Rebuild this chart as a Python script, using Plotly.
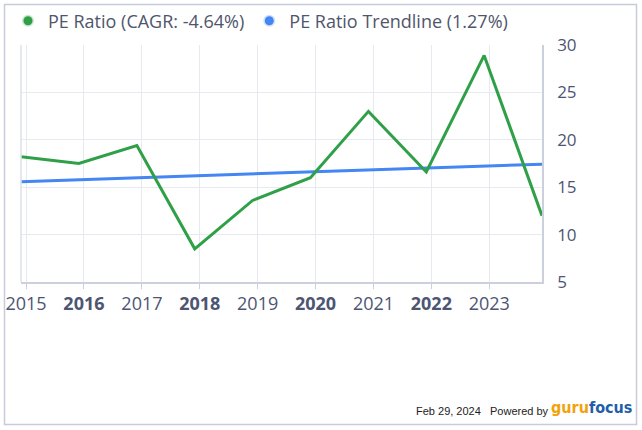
import plotly.graph_objects as go

# ---- data ----
dates = ["2014-11-30", "2015-11-30", "2016-11-30", "2017-11-30", "2018-11-30",
         "2019-11-30", "2020-11-30", "2021-11-30", "2022-11-30", "2023-11-30"]
pe_ratio = [18.2, 17.5, 19.4, 8.5, 13.6, 16.0, 23.0, 16.6, 28.9, 12.0]
trendline = [15.58, 15.78, 15.98, 16.18, 16.39, 16.60, 16.81, 17.02, 17.23, 17.43]

tick_dates = ["2015-01-01", "2016-01-01", "2017-01-01", "2018-01-01", "2019-01-01",
              "2020-01-01", "2021-01-01", "2022-01-01", "2023-01-01"]
tick_labels = ["2015", "<b>2016</b>", "2017", "<b>2018</b>", "2019",
               "<b>2020</b>", "2021", "<b>2022</b>", "2023"]
y_ticks = [5, 10, 15, 20, 25, 30]

series_names = ["PE Ratio (CAGR: -4.64%)", "PE Ratio Trendline (1.27%)"]
green = "#2fa048"
blue = "#4386f4"

fig = go.Figure()

fig.add_trace(go.Scatter(x=dates, y=trendline, mode="lines",
                         line=dict(color=blue, width=3), showlegend=False,
                         hoverinfo="skip"))
fig.add_trace(go.Scatter(x=dates, y=pe_ratio, mode="lines",
                         line=dict(color=green, width=3), showlegend=False,
                         hoverinfo="skip"))

# legend entries (dot markers)
fig.add_trace(go.Scatter(x=[None], y=[None], mode="markers", name=series_names[0],
                         marker=dict(color=green, size=9,
                                     line=dict(color="rgba(47,160,72,0.25)", width=3))))
fig.add_trace(go.Scatter(x=[None], y=[None], mode="markers", name=series_names[1],
                         marker=dict(color=blue, size=9,
                                     line=dict(color="rgba(67,134,244,0.25)", width=3))))

L, R, T, B = 21, 100, 45, 148
W, H = 642, 430
pw = W - L - R
ph = H - T - B


def px_x(p):
    return (p - L) / pw


def px_y(p):
    return (H - B - p) / ph


fig.update_layout(
    width=W, height=H,
    margin=dict(l=L, r=R, t=T, b=B, pad=0, autoexpand=False),
    paper_bgcolor="white", plot_bgcolor="white",
    font=dict(family="Open Sans, sans-serif", color="#4d5573"),
    legend=dict(orientation="h", xref="container", yref="container",
                x=8 / W, xanchor="left",
                y=1 - 21 / H, yanchor="middle",
                font=dict(size=18, color="#4f566b"),
                itemwidth=30, tracegroupgap=0, bgcolor="rgba(0,0,0,0)"),
    xaxis=dict(type="date", range=[dates[0], dates[-1]],
               tickvals=tick_dates, ticktext=tick_labels,
               showgrid=True, gridcolor="#e6e9f0", gridwidth=1,
               showline=True, linecolor="#ccd0dc", linewidth=1.5,
               ticks="outside", ticklen=5, tickcolor="#ccd0dc",
               tickfont=dict(size=18, color="#4d5573"),
               zeroline=False, fixedrange=True),
    yaxis=dict(side="right", range=[5, 30], tickvals=y_ticks,
               showgrid=True, gridcolor="#e6e9f0", gridwidth=1,
               showline=True, linecolor="#ccd0dc", linewidth=1.5,
               ticks="", ticklabelstandoff=10,
               tickfont=dict(size=17, color="#4d5573"),
               zeroline=False, fixedrange=True),
    showlegend=True,
)

# left edge line of plot area
fig.add_shape(type="line", xref="paper", yref="paper", x0=0, x1=0, y0=0, y1=1,
              line=dict(color="#dde1ea", width=1.5))

# outer frame
fig.add_shape(type="rect", xref="paper", yref="paper",
              x0=px_x(4.5), x1=px_x(636.5), y0=px_y(424.5), y1=px_y(4.5),
              line=dict(color="#c8cbda", width=1.5), fillcolor="rgba(0,0,0,0)",
              layer="below")

# footer
fig.add_annotation(xref="paper", yref="paper", x=px_x(551), y=px_y(411),
                   xanchor="right", yanchor="middle", showarrow=False,
                   text="Feb 29, 2024&nbsp;&nbsp;&nbsp;Powered by",
                   font=dict(family="Arial, Liberation Sans, sans-serif", size=11, color="#222222"))
fig.add_annotation(xref="paper", yref="paper", x=px_x(549), y=px_y(407),
                   xanchor="left", yanchor="middle", showarrow=False,
                   text="<b><span style='color:#f2a20c'>guru</span><span style='color:#1f5ea8'>focus</span></b>",
                   font=dict(family="DejaVu Sans Condensed, sans-serif", size=16))

fig.write_html("out.html", config={"displayModeBar": False},
               post_script="document.body.style.margin='0';document.body.style.overflow='hidden';")
